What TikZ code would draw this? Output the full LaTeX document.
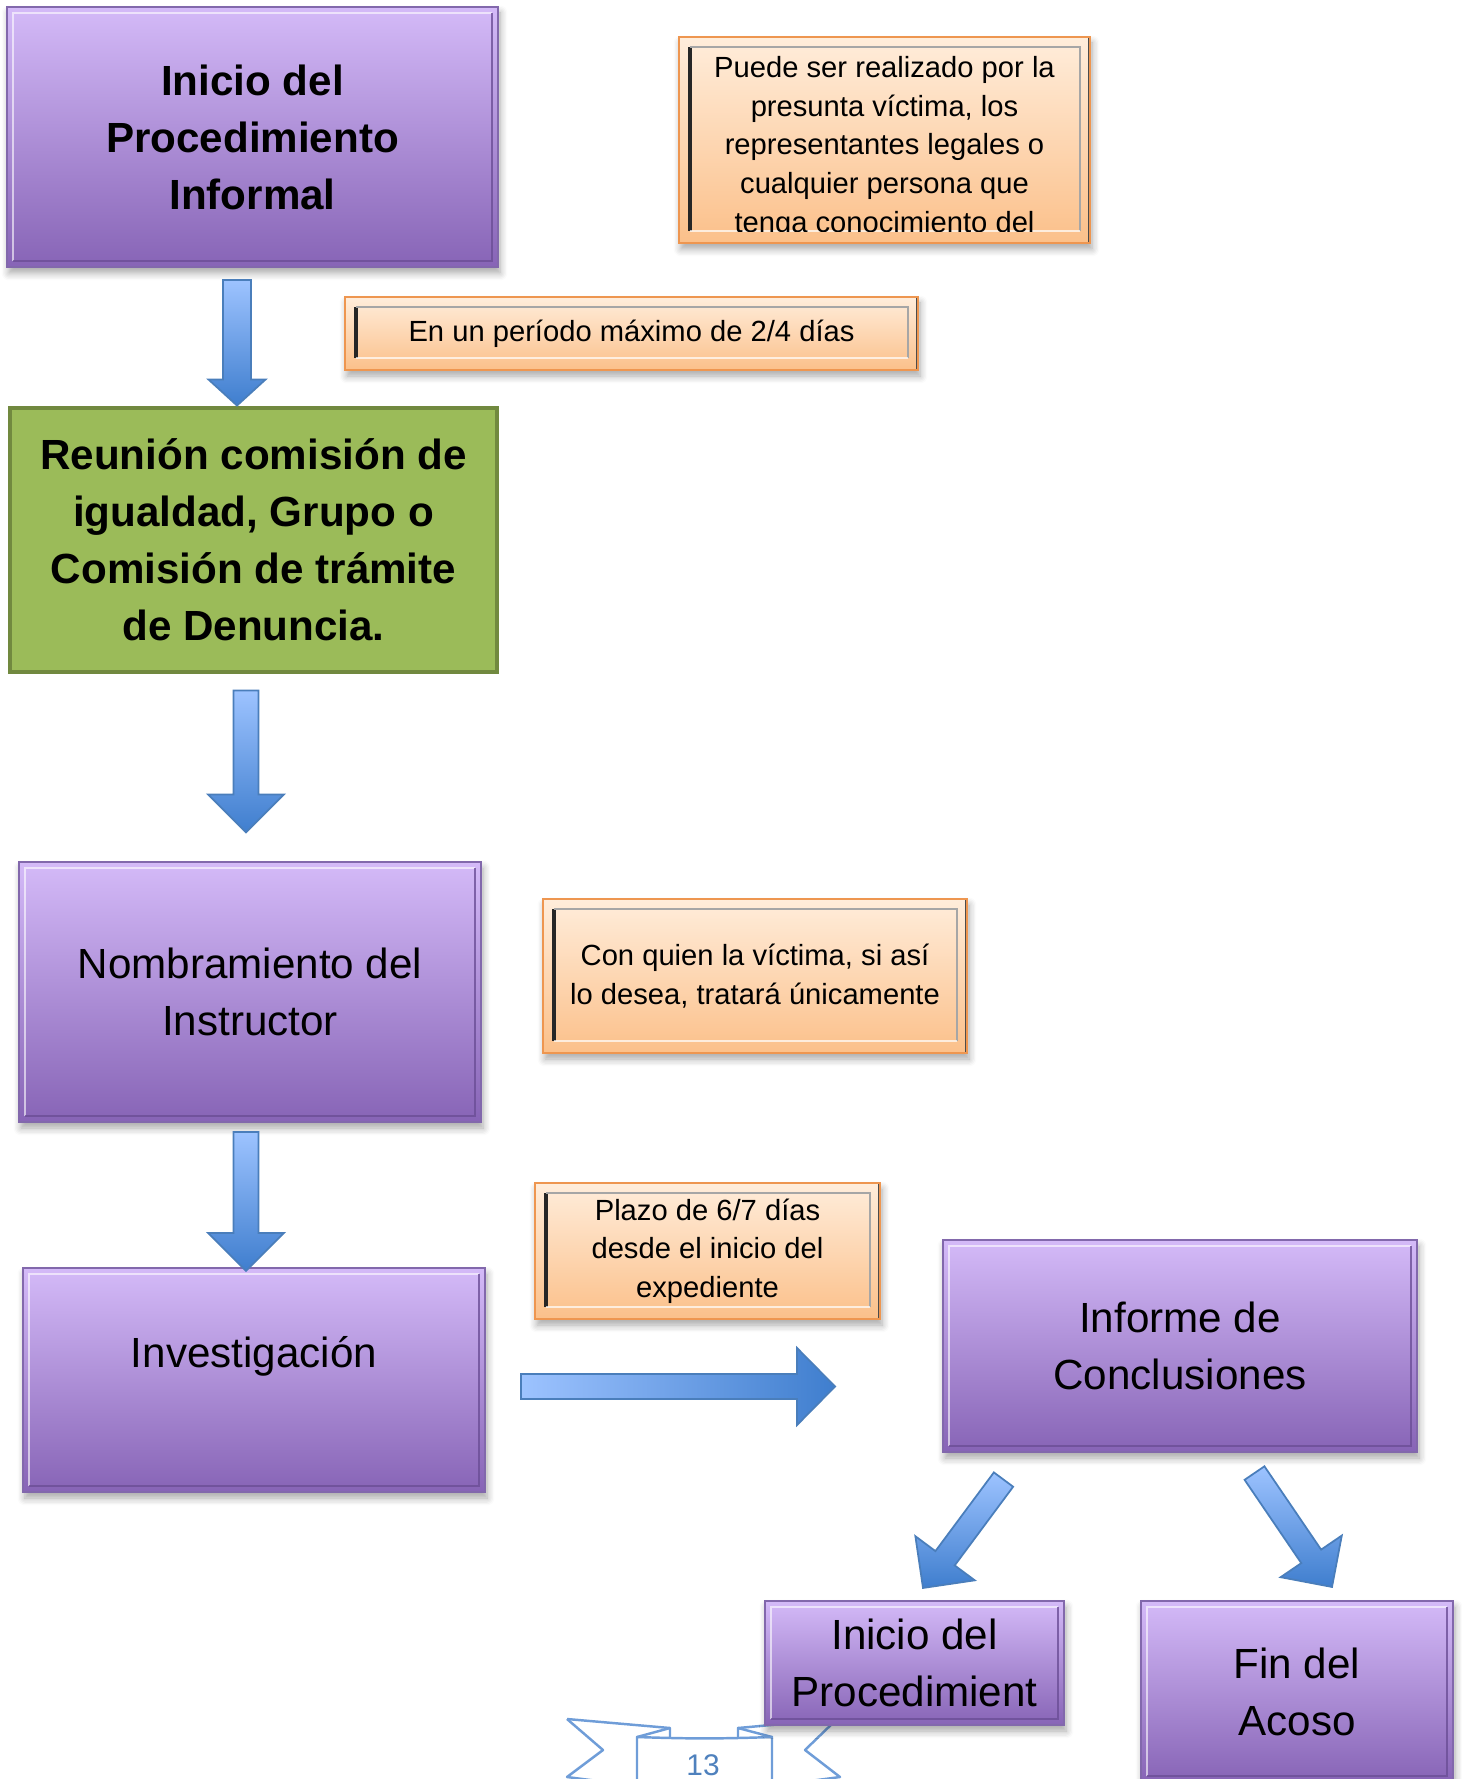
\documentclass[tikz,border=0pt]{standalone}
\usepackage{fontspec}
\setmainfont{Liberation Sans}
\usetikzlibrary{calc,shadows.blur}
\definecolor{lilactop}{HTML}{D4BAF8}
\definecolor{lilacbot}{HTML}{8764B6}
\definecolor{lilacedge}{HTML}{8268AC}
\definecolor{lilacdark}{HTML}{6B4E96}
\definecolor{leaf}{HTML}{9BBB59}
\definecolor{leafedge}{HTML}{71893F}
\definecolor{peachtop}{HTML}{FFEDDB}
\definecolor{peachbot}{HTML}{FBC08A}
\definecolor{peachedge}{HTML}{EE9650}
\definecolor{skytop}{HTML}{9DC3FF}
\definecolor{skybot}{HTML}{3F7ECE}
\definecolor{skyedge}{HTML}{4A7EBB}
\definecolor{ribbon}{HTML}{6F9DD8}
\definecolor{pagenum}{HTML}{4F81BD}

\newcommand{\mainsize}{\fontsize{12}{16.2}\selectfont}
\newcommand{\notesize}{\fontsize{8.3}{11}\selectfont}

% block arrow: [options]{from}{to}{half shaft}{half head}{head length}
\newcommand{\blockarrow}[6][]{%
  \path[flowarrow,#1]
    ($(#2)!#4!90:(#3)$) --
    ($($(#3)!#6!(#2)$)!#4!90:(#3)$) --
    ($($(#3)!#6!(#2)$)!#5!90:(#3)$) --
    (#3) --
    ($($(#3)!#6!(#2)$)!#5!-90:(#3)$) --
    ($($(#3)!#6!(#2)$)!#4!-90:(#3)$) --
    ($(#2)!#4!-90:(#3)$) -- cycle;}

\tikzset{
  lilacbox/.style={rectangle, draw=lilacedge, line width=0.6pt,
    top color=lilactop, bottom color=lilacbot, align=center, font=\mainsize, inner sep=0pt,
    blur shadow={shadow xshift=0.2mm, shadow yshift=-0.6mm, shadow blur steps=6, shadow opacity=35},
    path picture={
      \draw[white, opacity=0.6, line width=0.8pt]
        ($(path picture bounding box.south west)+(0.06,0.06)$) |- ($(path picture bounding box.north east)+(-0.06,-0.06)$);
      \draw[lilacdark, opacity=0.8, line width=0.8pt]
        ($(path picture bounding box.south west)+(0.06,0.06)$) -| ($(path picture bounding box.north east)+(-0.06,-0.06)$);
    }},
  leafbox/.style={rectangle, fill=leaf, draw=leafedge, line width=1.4pt,
    align=center, font=\mainsize\bfseries, inner sep=0pt},
  notebox/.style={rectangle, draw=peachedge, line width=0.8pt,
    top color=peachtop, bottom color=peachbot, align=center, font=\notesize, inner sep=0pt,
    blur shadow={shadow xshift=0.2mm, shadow yshift=-0.6mm, shadow blur steps=6, shadow opacity=35},
    path picture={
      \draw[black!85, line width=1.2pt]
        ($(path picture bounding box.south west)+(0.11,0.12)$) -- ($(path picture bounding box.north west)+(0.11,-0.10)$);
      \draw[black!35, line width=0.6pt]
        ($(path picture bounding box.north west)+(0.11,-0.10)$) -- ($(path picture bounding box.north east)+(-0.10,-0.10)$)
        -- ($(path picture bounding box.south east)+(-0.10,0.12)$);
      \draw[white, opacity=0.7, line width=0.6pt]
        ($(path picture bounding box.south east)+(-0.10,0.12)$) -- ($(path picture bounding box.south west)+(0.11,0.12)$);
      \draw[black!70, line width=1.2pt]
        (path picture bounding box.north east) -- (path picture bounding box.south east);
    }},
  flowarrow/.style={draw=skyedge, line width=0.5pt, top color=skytop, bottom color=skybot},
  ribbonline/.style={draw=ribbon, line width=0.7pt, line join=round}
}

\begin{document}
\begin{tikzpicture}
  \useasboundingbox (0,0) rectangle (14.62,-17.79);
  \clip (0,0) rectangle (14.62,-17.79);

  % page number ribbon
  \draw[ribbonline] (5.67,-17.19) -- (6.70,-17.28) -- (6.70,-17.37);
  \draw[ribbonline] (6.37,-17.37) -- (6.70,-17.28);
  \draw[ribbonline] (5.67,-17.19) -- (6.03,-17.50) -- (5.67,-17.77) -- (6.37,-17.86);
  \draw[ribbonline] (6.37,-17.95) -- (6.37,-17.37) to[bend right=2] (7.72,-17.37) -- (7.72,-17.95);
  \draw[ribbonline] (7.38,-17.37) -- (7.38,-17.28) -- (7.72,-17.37);
  \draw[ribbonline] (7.38,-17.28) -- (8.37,-17.19) -- (8.05,-17.50) -- (8.40,-17.77) -- (7.72,-17.86);
  \node[text=pagenum, font=\fontsize{8.5}{10}\selectfont, inner sep=0pt] (pnum) at (7.03,-17.65) {13};

  % main steps
  \node[lilacbox, font=\mainsize\bfseries, minimum width=4.91cm, minimum height=2.60cm] (inicio) at (2.525,-1.37) {Inicio del\\Procedimiento\\Informal};
  \node[leafbox, minimum width=4.87cm, minimum height=2.64cm] (reunion) at (2.535,-5.40) {Reunión comisión de\\igualdad, Grupo o\\Comisión de trámite\\de Denuncia.};
  \node[lilacbox, minimum width=4.62cm, minimum height=2.60cm] (nombra) at (2.50,-9.92) {Nombramiento del\\Instructor};
  \node[lilacbox, minimum width=4.62cm, minimum height=2.24cm] (invest) at (2.54,-13.80) {Investigación\\\mbox{}};
  \node[lilacbox, minimum width=4.74cm, minimum height=2.12cm] (informe) at (11.80,-13.46) {Informe de\\Conclusiones};
  \node[lilacbox, minimum width=2.99cm, minimum height=1.24cm] (reinicio) at (9.145,-16.63) {Inicio del\\Procedimient};
  \node[lilacbox, minimum width=3.12cm, minimum height=1.81cm] (fin) at (12.97,-16.915) {Fin del\\Acoso};

  % notes
  \node[notebox, minimum width=4.11cm, minimum height=2.06cm] (quienes) at (8.845,-1.40) {};
  \begin{scope}
    \clip ($(quienes.south west)+(0.11,0.13)$) rectangle ($(quienes.north east)+(-0.10,-0.10)$);
    \node[font=\notesize, align=center, inner sep=0pt, anchor=north] (quienestxt) at ($(quienes.north)+(0,-0.20)$)
      {Puede ser realizado por la\\presunta víctima, los\\representantes legales o\\cualquier persona que\\tenga conocimiento del};
  \end{scope}
  \node[notebox, minimum width=5.73cm, minimum height=0.73cm] (plazoA) at (6.315,-3.335) {En un período máximo de 2/4 días};
  \node[notebox, minimum width=4.24cm, minimum height=1.54cm] (victima) at (7.55,-9.76) {Con quien la víctima, si así\\lo desea, tratará únicamente};
  \node[notebox, minimum width=3.45cm, minimum height=1.36cm] (plazoB) at (7.075,-12.51) {Plazo de 6/7 días\\desde el inicio del\\expediente};

  % arrows
  \coordinate (a1s) at ($(inicio.south)+(-0.155,-0.12)$);
  \coordinate (a1e) at (a1s |- reunion.north);
  \blockarrow{a1s}{a1e}{0.14cm}{0.285cm}{0.26cm}
  \coordinate (a2s) at ($(reunion.south)+(-0.075,-0.16)$);
  \coordinate (a2e) at ($(a2s)+(0,-1.42)$);
  \blockarrow{a2s}{a2e}{0.125cm}{0.38cm}{0.38cm}
  \coordinate (a3s) at ($(nombra.south)+(-0.04,-0.09)$);
  \coordinate (a3e) at ($(a3s |- invest.north)+(0,-0.04)$);
  \blockarrow{a3s}{a3e}{0.125cm}{0.38cm}{0.38cm}
  \coordinate (a4s) at ($(invest.east)+(0.35,-0.065)$);
  \coordinate (a4e) at ($(a4s)+(3.14,0)$);
  \blockarrow[left color=skytop, right color=skybot]{a4s}{a4e}{0.125cm}{0.385cm}{0.38cm}
  \coordinate (a5s) at ($(informe.south)+(-1.765,-0.265)$);
  \coordinate (a5e) at ($(reinicio.north)+(0.085,0.12)$);
  \blockarrow{a5s}{a5e}{0.12cm}{0.37cm}{0.37cm}
  \coordinate (a6s) at ($(informe.south)+(0.745,-0.20)$);
  \coordinate (a6e) at ($(fin.north)+(0.35,0.13)$);
  \blockarrow{a6s}{a6e}{0.12cm}{0.37cm}{0.37cm}
\end{tikzpicture}
\end{document}
